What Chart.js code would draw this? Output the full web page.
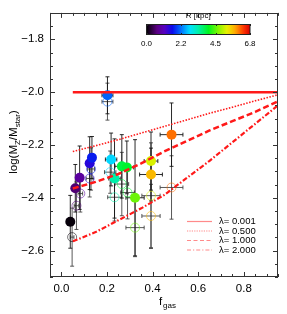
<!DOCTYPE html>
<html>
<head>
<meta charset="utf-8">
<script src="https://cdn.jsdelivr.net/npm/chart.js@4"></script>
<style>
    html, body { margin: 0; padding: 0; background: #fff; }
</style>
</head>
<body>
<canvas id="myChart" width="287" height="314"></canvas>
<script>
// puntos con color (radio en kpc)
var fgas      = [0.039, 0.061, 0.080, 0.124, 0.134, 0.202, 0.218, 0.233, 0.265, 0.287, 0.323, 0.393, 0.393, 0.483];
var logZ      = [-2.491, -2.364, -2.324, -2.269, -2.248, -2.012, -2.255, -2.327, -2.281, -2.285, -2.400, -2.261, -2.312, -2.161];
var fgasErr   = [0.008, 0.010, 0.010, 0.012, 0.012, 0.024, 0.025, 0.025, 0.030, 0.030, 0.040, 0.030, 0.050, 0.050];
var logZErr   = [0.10, 0.09, 0.12, 0.10, 0.08, 0.07, 0.10, 0.15, 0.12, 0.10, 0.22, 0.11, 0.10, 0.12];
var radio     = [0.05, 0.6, 0.9, 1.5, 1.8, 2.2, 2.8, 3.4, 3.9, 4.0, 4.6, 5.2, 5.7, 6.1];

// circulos abiertos
var fgasOpen    = [0.047, 0.066, 0.083, 0.124, 0.130, 0.202, 0.214, 0.233, 0.265, 0.290, 0.323, 0.393, 0.393, 0.483];
var logZOpen    = [-2.549, -2.430, -2.384, -2.327, -2.291, -2.036, -2.303, -2.398, -2.348, -2.380, -2.513, -2.392, -2.469, -2.361];
var fgasErrOpen = [0.008, 0.010, 0.010, 0.015, 0.015, 0.024, 0.025, 0.030, 0.030, 0.030, 0.040, 0.040, 0.040, 0.050];
var logZErrOpen = [0.11, 0.09, 0.07, 0.07, 0.08, 0.07, 0.08, 0.09, 0.12, 0.10, 0.11, 0.20, 0.12, 0.12];
var radioOpen   = [0.05, 0.6, 0.9, 1.5, 1.8, 2.2, 2.8, 3.4, 3.9, 4.0, 4.6, 5.2, 5.7, 6.1];

// modelos
var modeloF   = [0.05, 0.15, 0.25, 0.35, 0.45, 0.55, 0.65, 0.75, 0.85, 0.95];
var lambda001 = [-2.000, -2.000, -2.000, -2.000, -2.000, -2.000, -2.000, -2.000, -2.000, -2.000];
var lambda05  = [-2.225, -2.203, -2.180, -2.155, -2.130, -2.105, -2.080, -2.057, -2.033, -2.010];
var lambda1   = [-2.365, -2.340, -2.310, -2.270, -2.225, -2.185, -2.145, -2.110, -2.075, -2.035];
var lambda2   = [-2.565, -2.530, -2.485, -2.440, -2.390, -2.325, -2.260, -2.190, -2.120, -2.050];
var lambdaLabels = ['\u03bb= 0.001', '\u03bb= 0.500', '\u03bb= 1.000', '\u03bb= 2.000'];

var xTicks = [0.0, 0.2, 0.4, 0.6, 0.8];
var yTicks = [-2.6, -2.4, -2.2, -2.0, -1.8];
var radioMax = 6.8;
var cbarLabels = ['0.0', '2.2', '4.5', '6.8'];

var FUENTE = '"Liberation Sans", Arial, Helvetica, sans-serif';

// tabla de color tipo rainbow (IDL)
var paradas = [
    [0.00, 0, 0, 0], [0.10, 90, 0, 130], [0.17, 90, 0, 190], [0.25, 10, 10, 235],
    [0.34, 0, 120, 255], [0.42, 0, 225, 255], [0.50, 0, 240, 170], [0.60, 0, 245, 30],
    [0.70, 140, 245, 0], [0.78, 235, 240, 0], [0.86, 255, 165, 0], [0.94, 255, 50, 0], [1.00, 215, 0, 0]
];
var mapaColor = function (t, alfa) {
    t = Math.max(0, Math.min(1, t));
    for (var i = 1; i < paradas.length; i++) {
        if (t <= paradas[i][0]) {
            var a = paradas[i - 1], b = paradas[i];
            var f = (t - a[0]) / (b[0] - a[0]);
            var c = [1, 2, 3].map(k => Math.round(a[k] + (b[k] - a[k]) * f));
            return 'rgba(' + c[0] + ',' + c[1] + ',' + c[2] + ',' + (alfa === undefined ? 1 : alfa) + ')';
        }
    }
    return 'rgb(215,0,0)';
};

var fmt = function (v) {
    var s = Math.abs(v).toFixed(1);
    return v < -1e-9 ? '\u2212' + s : s;
};

var puntos = fgas.map((f, i) => ({ x: f, y: logZ[i] }));
var puntosOpen = fgasOpen.map((f, i) => ({ x: f, y: logZOpen[i] }));
var curva = arr => modeloF.map((f, i) => ({ x: f, y: arr[i] }));

// barras de error
var barrasPlugin = {
    id: 'barras',
    beforeDatasetsDraw: function (chart) {
        var ctx = chart.ctx, sx = chart.scales.x, sy = chart.scales.y;
        var dibujar = function (xs, ys, ex, ey, color) {
            ctx.strokeStyle = color;
            ctx.lineWidth = 1;
            xs.forEach(function (f, i) {
                var x = sx.getPixelForValue(f), y = sy.getPixelForValue(ys[i]);
                var x0 = sx.getPixelForValue(f - ex[i]), x1 = sx.getPixelForValue(f + ex[i]);
                var y0 = sy.getPixelForValue(ys[i] + ey[i]), y1 = sy.getPixelForValue(ys[i] - ey[i]);
                ctx.beginPath();
                ctx.moveTo(x, y0); ctx.lineTo(x, y1);
                ctx.moveTo(x - 2, y0); ctx.lineTo(x + 2, y0);
                ctx.moveTo(x - 2, y1); ctx.lineTo(x + 2, y1);
                ctx.moveTo(x0, y); ctx.lineTo(x1, y);
                ctx.moveTo(x0, y - 2); ctx.lineTo(x0, y + 2);
                ctx.moveTo(x1, y - 2); ctx.lineTo(x1, y + 2);
                ctx.stroke();
            });
        };
        ctx.save();
        dibujar(fgasOpen, logZOpen, fgasErrOpen, logZErrOpen, 'rgba(60,60,60,0.85)');
        dibujar(fgas, logZ, fgasErr, logZErr, 'rgba(20,20,20,0.9)');
        ctx.restore();
    }
};

// marco, ticks internos, titulos, leyenda y barra de color
var marcoPlugin = {
    id: 'marco',
    afterDraw: function (chart) {
        var ctx = chart.ctx, a = chart.chartArea, sx = chart.scales.x, sy = chart.scales.y;
        ctx.save();
        ctx.strokeStyle = '#333';
        ctx.lineWidth = 1;
        ctx.strokeRect(Math.round(a.left) + 0.5, Math.round(a.top) + 0.5,
            Math.round(a.right - a.left) - 1, Math.round(a.bottom - a.top) - 1);
        ctx.beginPath();
        for (var i = -1; i <= 19; i++) {
            var px = Math.round(sx.getPixelForValue(i * 0.05)) + 0.5;
            var l = (i % 4 === 0) ? 5 : 3;
            ctx.moveTo(px, a.bottom); ctx.lineTo(px, a.bottom - l);
            ctx.moveTo(px, a.top); ctx.lineTo(px, a.top + l);
        }
        for (var j = -54; j <= -34; j++) {
            var py = Math.round(sy.getPixelForValue(j * 0.05)) + 0.5;
            var m = (j % 4 === 0) ? 5 : 3;
            ctx.moveTo(a.left, py); ctx.lineTo(a.left + m, py);
            ctx.moveTo(a.right, py); ctx.lineTo(a.right - m, py);
        }
        ctx.stroke();

        // titulo eje x
        ctx.fillStyle = '#000';
        ctx.textBaseline = 'alphabetic';
        ctx.font = '11.5px ' + FUENTE;
        ctx.textAlign = 'left';
        ctx.fillText('f', 159, 305);
        ctx.font = '8px ' + FUENTE;
        ctx.fillText('gas', 163, 307.5);

        // titulo eje y
        var partes = [['log(M', 0], ['Z', 1], ['/M', 0], ['star', 1], [')', 0]];
        var ancho = 0;
        partes.forEach(p => { ctx.font = (p[1] ? '8px ' : '11.5px ') + FUENTE; ancho += ctx.measureText(p[0]).width; });
        ctx.translate(17, 142);
        ctx.rotate(-Math.PI / 2);
        var cx = -ancho / 2;
        partes.forEach(p => {
            ctx.font = (p[1] ? '8px ' : '11.5px ') + FUENTE;
            ctx.fillText(p[0], cx, p[1] ? 3 : 0);
            cx += ctx.measureText(p[0]).width;
        });
        ctx.setTransform(1, 0, 0, 1, 0, 0);

        // leyenda
        var estilos = [[], [1.2, 1.2], [4, 2.5], [4, 2, 1.2, 2]];
        ctx.font = '9.5px ' + FUENTE;
        ctx.textBaseline = 'middle';
        lambdaLabels.forEach(function (t, k) {
            var y = 221.5 + k * 9.5;
            ctx.strokeStyle = 'rgba(255,60,60,0.6)';
            ctx.lineWidth = 1.2;
            ctx.setLineDash(estilos[k]);
            ctx.beginPath(); ctx.moveTo(187, y); ctx.lineTo(212, y); ctx.stroke();
            ctx.setLineDash([]);
            ctx.fillStyle = '#000';
            ctx.fillText(t, 219, y);
        });

        // barra de color
        var bx = 146.5, by = 24, bw = 103.5, bh = 11;
        var grad = ctx.createLinearGradient(bx, 0, bx + bw, 0);
        for (var s = 0; s <= 40; s++) grad.addColorStop(s / 40, mapaColor(s / 40));
        ctx.fillStyle = grad;
        ctx.fillRect(bx, by, bw, bh);
        ctx.strokeStyle = '#222';
        ctx.lineWidth = 1;
        ctx.strokeRect(bx, by + 0.5, bw, bh - 1);
        ctx.fillStyle = '#000';
        ctx.textAlign = 'center';
        ctx.font = '8px ' + FUENTE;
        ctx.fillText('R [kpc]', bx + bw / 2, 16);
        ctx.beginPath();
        cbarLabels.forEach(function (t, k) {
            var x = bx + bw * k / (cbarLabels.length - 1);
            ctx.fillText(t, x, 43.5);
            ctx.moveTo(Math.round(x) + 0.5, by); ctx.lineTo(Math.round(x) + 0.5, by + 2);
            ctx.moveTo(Math.round(x) + 0.5, by + bh); ctx.lineTo(Math.round(x) + 0.5, by + bh - 2);
        });
        ctx.stroke();
        ctx.restore();
    }
};

var rojo = 'rgb(255,25,25)';
var ctx = document.getElementById('myChart');
var myChart = new Chart(ctx, {
    type: 'scatter',
    data: {
        datasets: [
            { data: curva(lambda001), showLine: true, pointRadius: 0, borderColor: rojo, borderWidth: 2.5, order: 0 },
            { data: curva(lambda05), showLine: true, pointRadius: 0, borderColor: rojo, borderWidth: 1.6, borderDash: [1.5, 1.5], order: 0 },
            { data: curva(lambda1), showLine: true, pointRadius: 0, borderColor: rojo, borderWidth: 2.5, borderDash: [6, 3], order: 0 },
            { data: curva(lambda2), showLine: true, pointRadius: 0, borderColor: rojo, borderWidth: 2.2, borderDash: [5, 2, 1.5, 2], order: 0 },
            {
                data: puntos, pointRadius: 5, pointBorderWidth: 0,
                pointBackgroundColor: radio.map(r => mapaColor(r / radioMax)), order: 1
            },
            {
                data: puntosOpen, pointRadius: 4.5, pointBorderWidth: 1,
                pointBackgroundColor: 'rgba(0,0,0,0)',
                pointBorderColor: radioOpen.map(r => mapaColor(r / radioMax, 0.55)), order: 2
            }
        ]
    },
    plugins: [barrasPlugin, marcoPlugin],
    options: {
        responsive: false,
        devicePixelRatio: 1,
        animation: false,
        layout: { padding: { top: 3, right: 9, left: 0, bottom: 0 } },
        plugins: { legend: { display: false }, tooltip: { enabled: false } },
        scales: {
            x: {
                type: 'linear', min: -0.05, max: 0.95,
                afterBuildTicks: s => { s.ticks = xTicks.map(v => ({ value: v })); },
                afterFit: s => { s.height = 37; },
                grid: { display: false, drawTicks: false },
                border: { display: false },
                ticks: {
                    padding: 5, color: '#000', maxRotation: 0, autoSkip: false,
                    font: { family: FUENTE, size: 11.5 }, callback: v => fmt(v)
                }
            },
            y: {
                type: 'linear', min: -2.7, max: -1.7,
                afterBuildTicks: s => { s.ticks = yTicks.map(v => ({ value: v })); },
                afterFit: s => { s.width = 50; },
                grid: { display: false, drawTicks: false },
                border: { display: false },
                ticks: {
                    padding: 6, color: '#000', autoSkip: false,
                    font: { family: FUENTE, size: 11.5 }, callback: v => fmt(v)
                }
            }
        }
    }
});
</script>
</body>
</html>
